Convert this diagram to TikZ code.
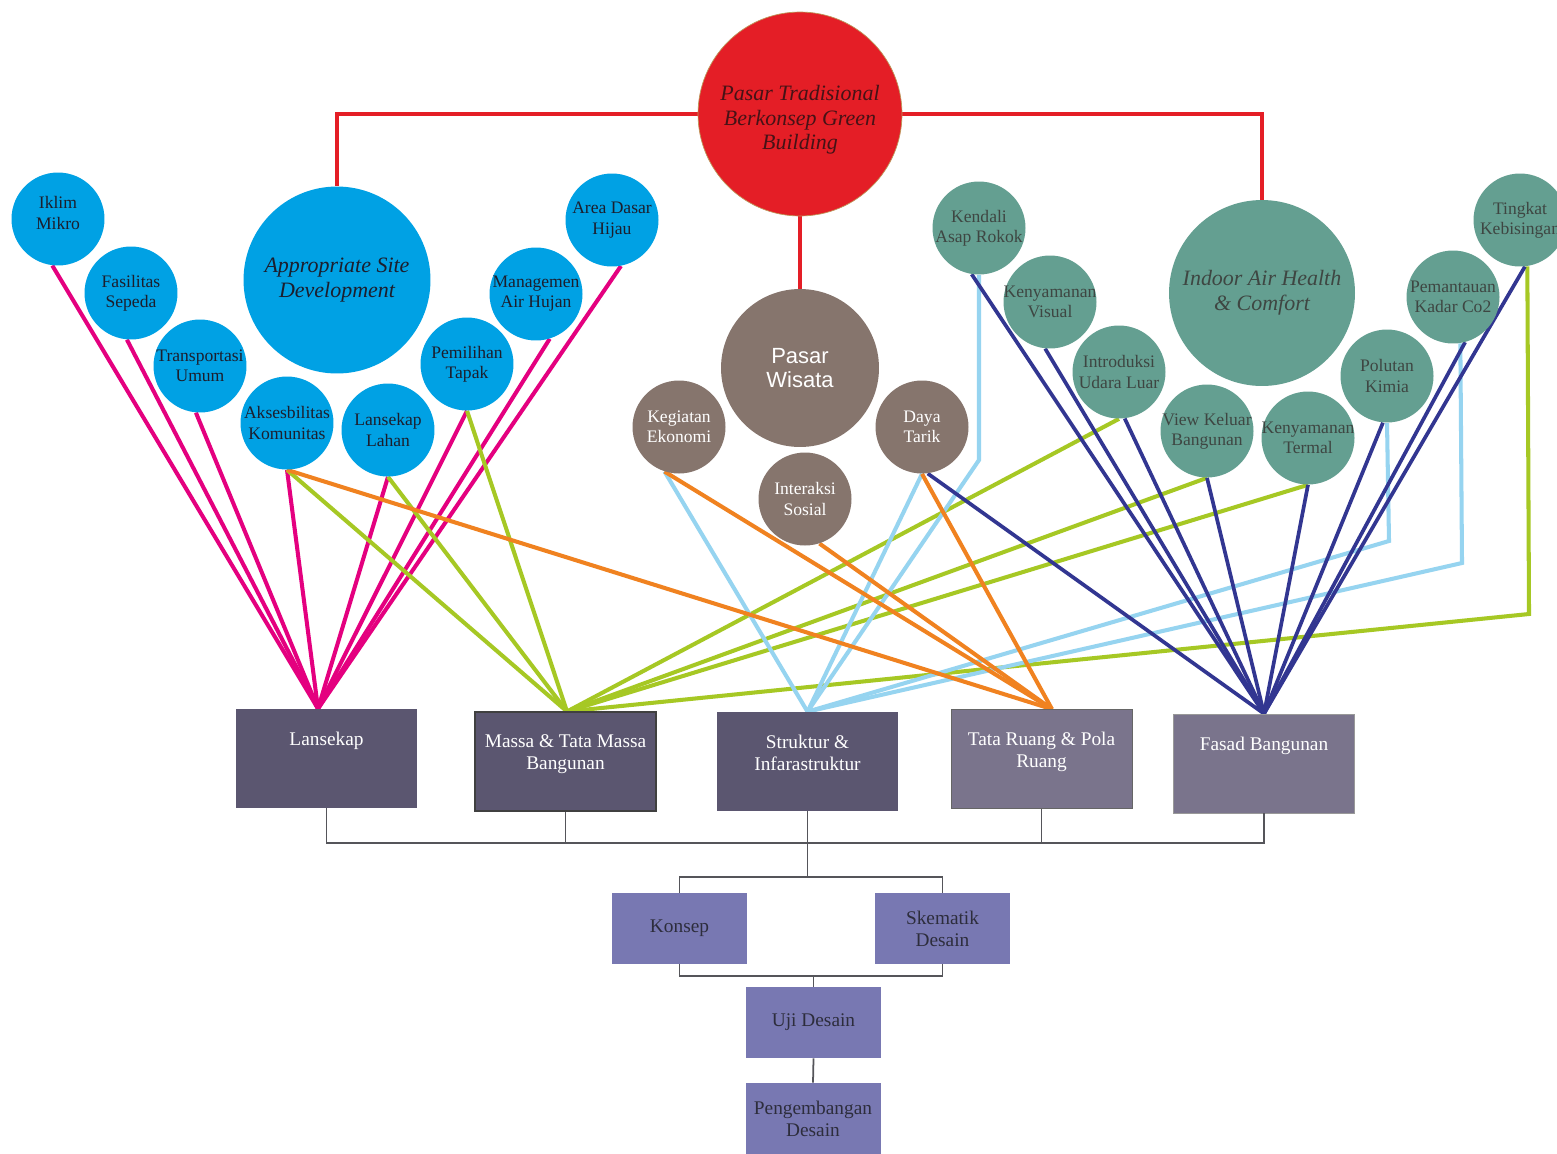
\documentclass[tikz,border=0pt]{standalone}
\usepackage{fontspec}
\setmainfont{Liberation Serif}
\newfontfamily\wisatafont{Liberation Sans}
\usepackage{tikz}
\usetikzlibrary{positioning,backgrounds}

\definecolor{siteblue}{RGB}{0,161,228}
\definecolor{sitetext}{RGB}{28,30,45}
\definecolor{pasarred}{RGB}{228,30,38}
\definecolor{pasartext}{RGB}{70,18,22}
\definecolor{wisatabrown}{RGB}{134,117,109}
\definecolor{iahgreen}{RGB}{100,159,145}
\definecolor{iahtext}{RGB}{62,70,66}
\definecolor{boxdark}{RGB}{91,86,112}
\definecolor{boxlight}{RGB}{122,116,140}
\definecolor{boxpurple}{RGB}{120,120,178}
\definecolor{boxptext}{RGB}{45,45,60}
\definecolor{linkpink}{RGB}{228,0,127}
\definecolor{linklime}{RGB}{166,200,36}
\definecolor{linkorange}{RGB}{240,130,32}
\definecolor{linksky}{RGB}{150,212,240}
\definecolor{linknavy}{RGB}{50,54,145}
\definecolor{treegrey}{RGB}{85,85,90}

\begin{document}
\begin{tikzpicture}[x=0.02cm, y=-0.02cm, font=\fontsize{10}{11.5}\selectfont,
bubble/.style={circle, minimum size=1.86cm, inner sep=0pt, draw=none},
b_site/.style={bubble, fill=siteblue},
b_wisata/.style={bubble, fill=wisatabrown},
b_iah/.style={bubble, fill=iahgreen},
t_site/.style={align=center, text=sitetext, inner sep=0pt},
t_wisata/.style={align=center, text=white, inner sep=0pt},
t_iah/.style={align=center, text=iahtext, inner sep=0pt},
t_big/.style={align=center, inner sep=0pt, font=\fontsize{12.5}{14}\selectfont\itshape},
box_d/.style={rectangle, fill=boxdark, minimum width=3.62cm, minimum height=1.98cm, inner sep=0pt},
box_l/.style={box_d, fill=boxlight},
box_p/.style={rectangle, fill=boxpurple, minimum width=2.7cm, minimum height=1.42cm, inner sep=0pt,
  align=center, text=boxptext, font=\fontsize{11}{12.5}\selectfont},
t_box/.style={anchor=north, yshift=-0.46cm, align=center, text=white, inner sep=0pt,
  font=\fontsize{11}{12.5}\selectfont},
l_pink/.style={line width=2.3pt, draw=linkpink},
l_lime/.style={line width=2.3pt, draw=linklime},
l_orange/.style={line width=2.3pt, draw=linkorange},
l_sky/.style={line width=2.3pt, draw=linksky},
l_navy/.style={line width=2.1pt, draw=linknavy},
trunk/.style={line width=2.8pt, draw=pasarred},
tree/.style={line width=1pt, draw=treegrey}]

   \useasboundingbox (0,0) rectangle (1557,1153);

   % main concept
   \node[circle, minimum size=4.08cm, inner sep=0pt, fill=pasarred, draw={rgb,255:red,190;green,150;blue,90}, line width=0.4pt,
         label={[t_big, text=pasartext, yshift=-0.12cm]center:Pasar Tradisional\\Berkonsep Green\\Building}] (pasar) at (800,114) {};

   % appropriate site development
   \node[circle, minimum size=3.74cm, inner sep=0pt, fill=siteblue,
         label={[t_big, text=sitetext]center:Appropriate Site\\Development}] (site) at (337,280) {};
   \node[b_site, label={[t_site, yshift=0.12cm]center:Iklim\\Mikro}] (iklim) at (58,219) {};
   \node[b_site, label={[t_site]center:Fasilitas\\Sepeda}] (sepeda) at (131,293) {};
   \node[b_site, label={[t_site]center:Transportasi\\Umum}] (transport) at (200,366) {};
   \node[b_site, label={[t_site]center:Aksesbilitas\\Komunitas}] (akses) at (287,423) {};
   \node[b_site, label={[t_site]center:Lansekap\\Lahan}] (lahan) at (388,430) {};
   \node[b_site, label={[t_site]center:Pemilihan\\Tapak}] (tapak) at (467,364) {};
   \node[b_site, label={[t_site]center:Managemen\\Air Hujan}] (airhujan) at (536,294) {};
   \node[b_site, label={[t_site]center:Area Dasar\\Hijau}] (dasarhijau) at (612,220) {};

   % pasar wisata
   \node[circle, minimum size=3.16cm, inner sep=0pt, fill=wisatabrown,
         label={[align=center, text=white, inner sep=0pt, font=\wisatafont\fontsize{12.5}{14}\selectfont]center:Pasar\\Wisata}] (wisata) at (800,368) {};
   \node[b_wisata, label={[t_wisata]center:Kegiatan\\Ekonomi}] (ekonomi) at (679,427) {};
   \node[b_wisata, label={[t_wisata]center:Interaksi\\Sosial}] (sosial) at (805,499) {};
   \node[b_wisata, label={[t_wisata]center:Daya\\Tarik}] (daya) at (922,427) {};

   % indoor air health
   \node[circle, minimum size=3.72cm, inner sep=0pt, fill=iahgreen,
         label={[t_big, text=iahtext]center:Indoor Air Health\\\& Comfort}] (iah) at (1262,293) {};
   \node[b_iah, label={[t_iah]center:Kendali\\Asap Rokok}] (asap) at (979,228) {};
   \node[b_iah, label={[t_iah]center:Kenyamanan\\Visual}] (visual) at (1050,302) {};
   \node[b_iah, label={[t_iah]center:Introduksi\\Udara Luar}] (udara) at (1119,372) {};
   \node[b_iah, label={[t_iah]center:View Keluar\\Bangunan}] (keluar) at (1207,431) {};
   \node[b_iah, label={[t_iah]center:Kenyamanan\\Termal}] (termal) at (1308,438) {};
   \node[b_iah, label={[t_iah]center:Polutan\\Kimia}] (kimia) at (1387,376) {};
   \node[b_iah, label={[t_iah]center:Pemantauan\\Kadar Co2}] (co2) at (1453,297) {};
   \node[b_iah, label={[t_iah]center:Tingkat\\Kebisingan}] (bising) at (1520,220) {};

   % design aspects
   \node[box_d, label={[t_box]north:Lansekap}] (lans) at (326.5,758.5) {};
   \node[box_d, draw=black!75, line width=0.6pt, label={[t_box]north:Massa \& Tata Massa\\Bangunan}] (massa) at (565.5,761.5) {};
   \node[box_d, label={[t_box]north:Struktur \&\\Infarastruktur}] (strukt) at (807.5,761.5) {};
   \node[box_l, draw=black!60, line width=0.4pt, label={[t_box]north:Tata Ruang \& Pola\\Ruang}] (tata) at (1041.5,759) {};
   \node[box_l, draw=black!40, line width=0.4pt, label={[t_box]north:Fasad Bangunan}] (fasad) at (1264,763.5) {};

   % process
   \node[box_p] (konsep) at (679.5,928.5) {Konsep};
   \node[box_p] (skema) at (942.5,928.5) {Skematik\\Desain};
   \node[box_p] (uji) at (813.5,1022.5) {Uji Desain};
   \node[box_p] (pengemb) at (813,1118.5) {Pengembangan\\Desain};

   \coordinate (asapKnee) at (979,460);
   \coordinate (kimiaKnee) at (1389,541);
   \coordinate (co2Knee) at (1462,563);
   \coordinate (bisingKnee) at (1529,614);

   \begin{scope}[on background layer]
   \fill[white] (0,0) rectangle (1557,1153);
   % red links
   \draw[trunk] (pasar.west) -| (site.north);
   \draw[trunk] (pasar.east) -| (iah.north);
   \draw[trunk] (pasar.south) -- (wisata.north);

   % lansekap
   \foreach \s in {iklim.-97, sepeda.-95, transport.-95, akses.south, lahan.south, tapak.south, airhujan.-73, dasarhijau.-79}
      \draw[l_pink] (\s) -- ([xshift=-0.17cm]lans.north);

   % massa
   \foreach \s in {akses.south, lahan.south, tapak.south, udara.south, keluar.south, termal.south}
      \draw[l_lime] (\s) -- ([xshift=0.03cm]massa.north);
   \draw[l_lime] (bising.-81) -- (bisingKnee) -- ([xshift=0.03cm]massa.north);

   % struktur
   \foreach \s in {ekonomi.-108, daya.south}
      \draw[l_sky] (\s) -- (strukt.north);
   \draw[l_sky] (asap.south) -- (asapKnee) -- (strukt.north);
   \draw[l_sky] (kimia.south) -- (kimiaKnee) -- (strukt.north);
   \draw[l_sky] (co2.-81) -- (co2Knee) -- (strukt.north);

   % tata ruang
   \foreach \s in {akses.south, ekonomi.-108, sosial.-72, daya.south}
      \draw[l_orange] (\s) -- ([xshift=0.21cm]tata.north);

   % fasad
   \foreach \s in {daya.-83, asap.-99, visual.-96, udara.-83, keluar.south, termal.south, kimia.-95, co2.-75, bising.-84}
      \draw[l_navy] (\s) -- (fasad.north);
   \end{scope}

   % tree
   \coordinate (bus) at (0,843);
   \coordinate (split) at (0,877);
   \coordinate (join) at (0,976);
   \draw[tree] (lans.south) |- (bus -| fasad.south) -- (fasad.south);
   \foreach \b in {massa, strukt, tata}
      \draw[tree] (\b.south) -- (bus -| \b.south);
   \draw[tree] (bus -| strukt.south) -- (split -| strukt.south);
   \draw[tree] (konsep.north) |- (split -| skema.north) -- (skema.north);
   \draw[tree] (konsep.south) |- (join -| skema.south) -- (skema.south);
   \draw[tree] (join -| uji.north) -- (uji.north);
   \draw[tree] (uji.south) -- (pengemb.north);

\end{tikzpicture}
\end{document}
